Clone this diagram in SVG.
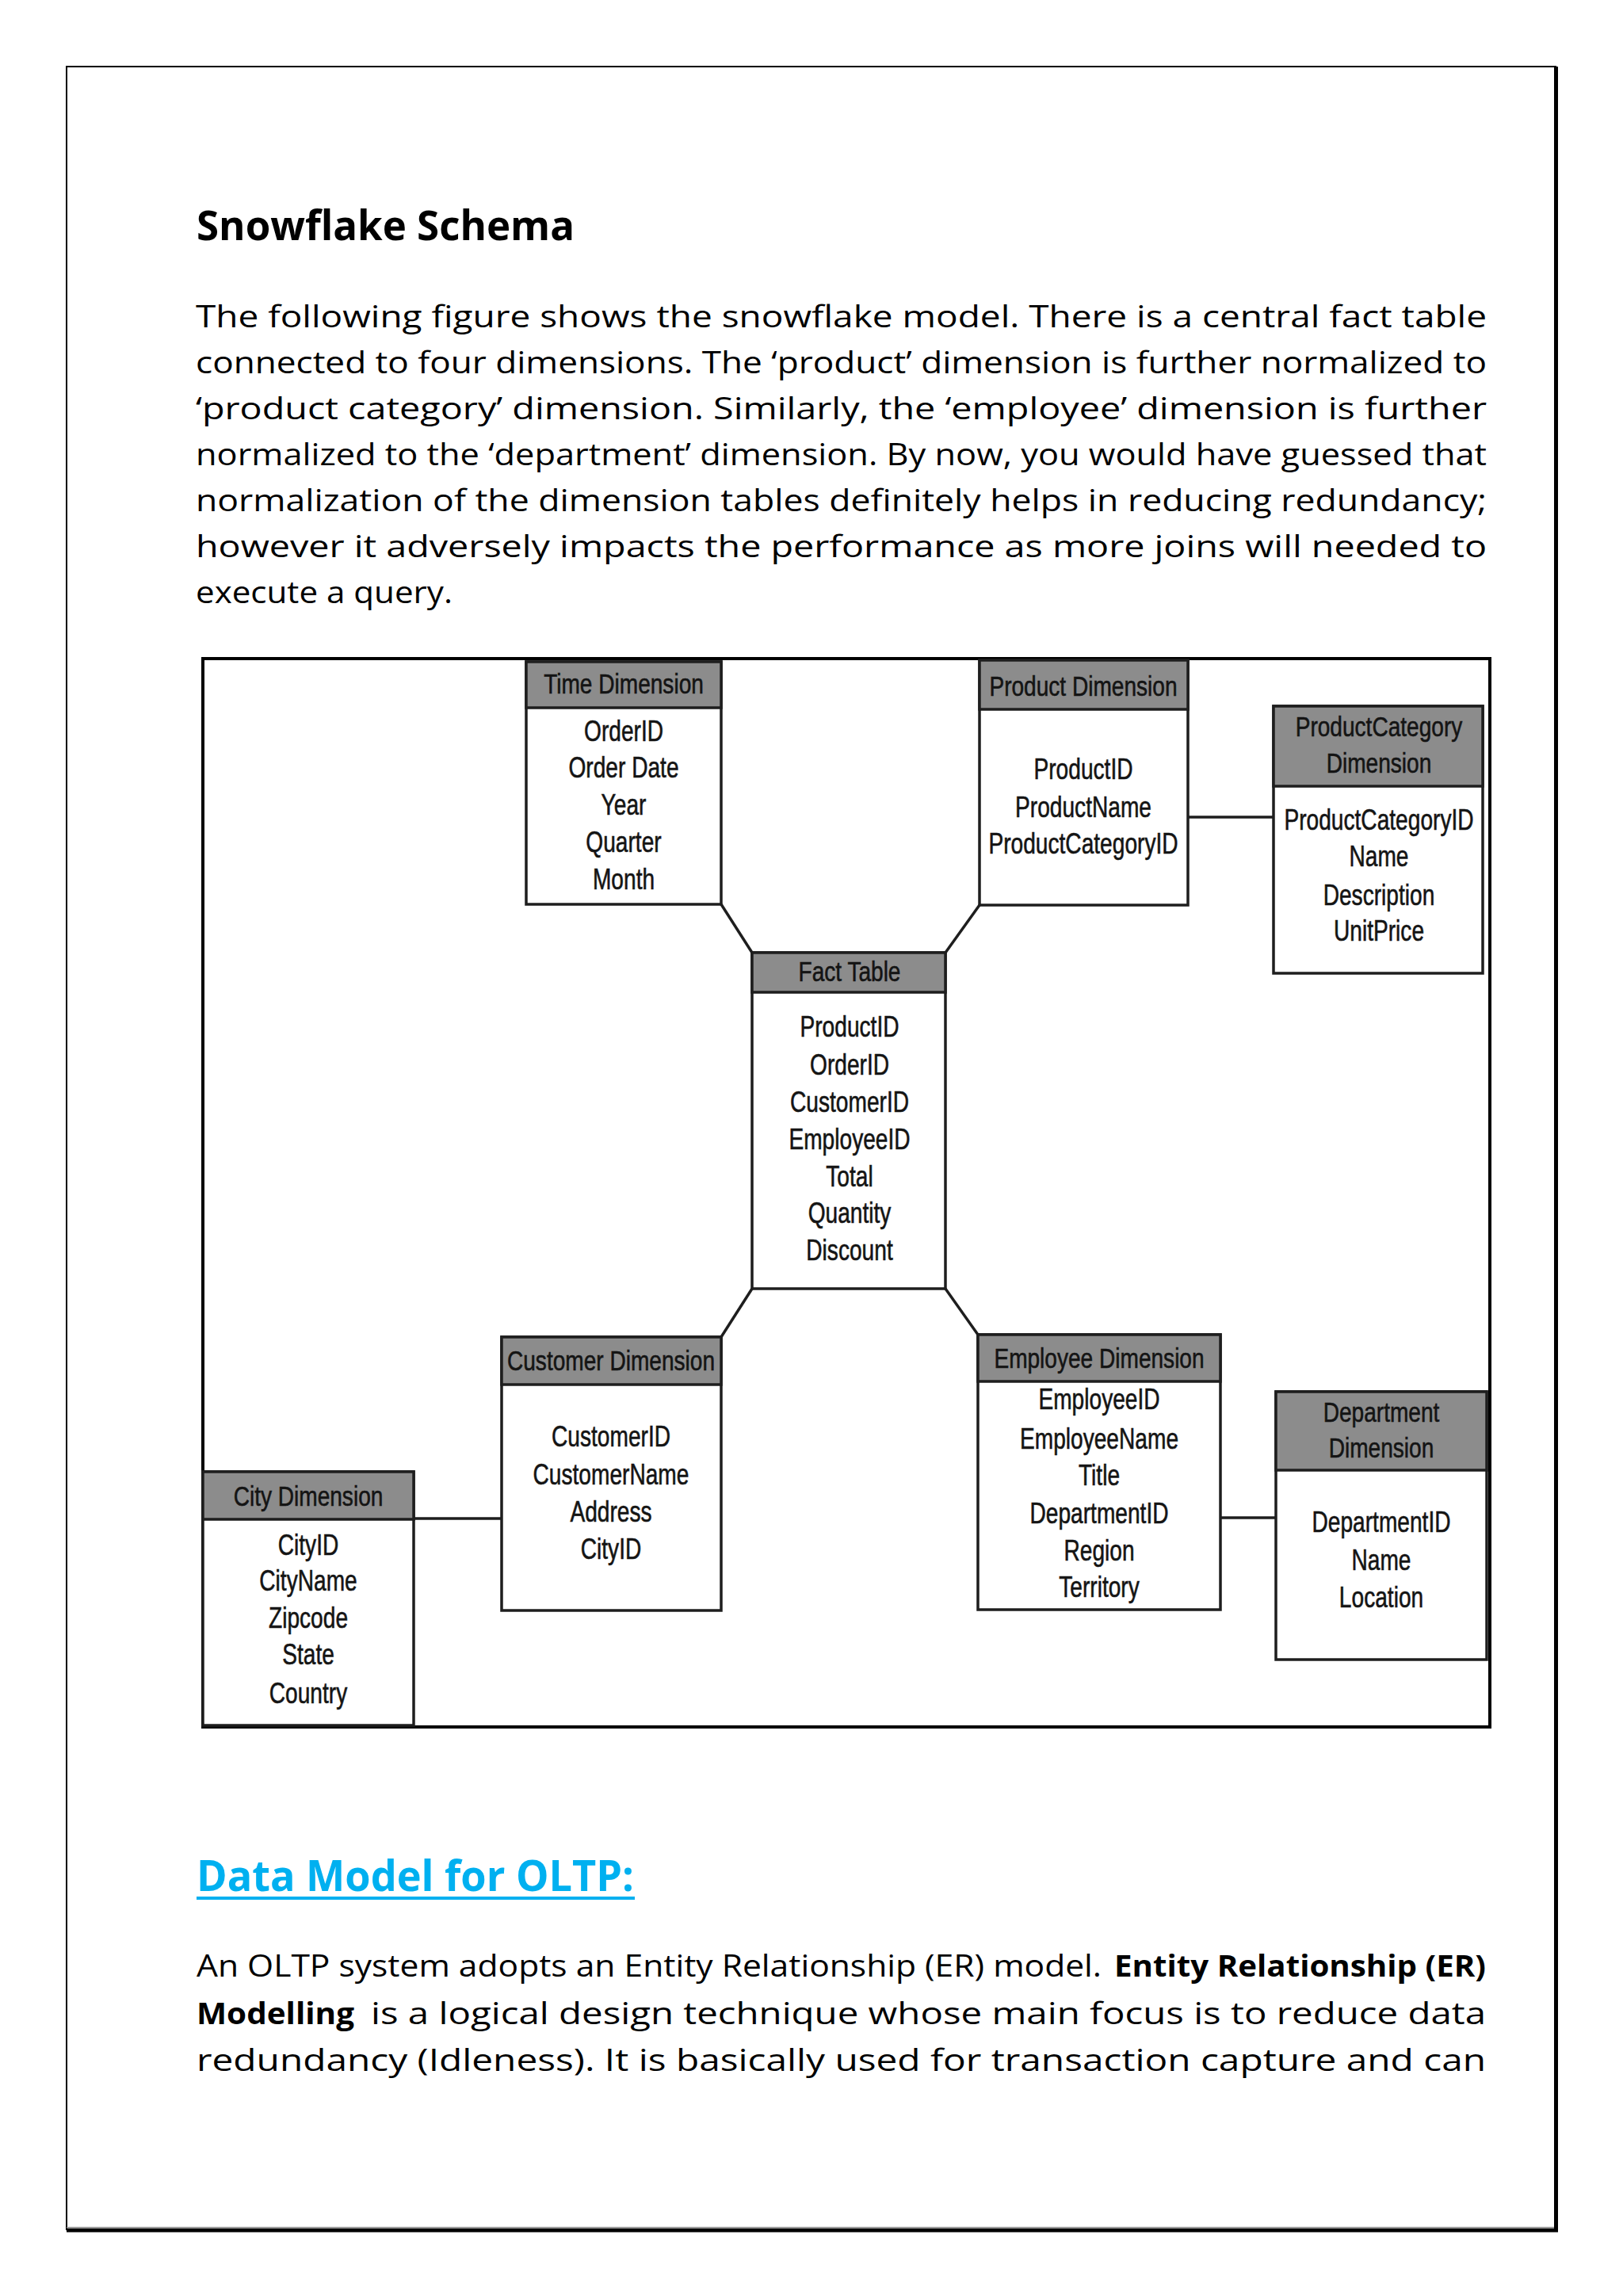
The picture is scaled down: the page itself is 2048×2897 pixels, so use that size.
<svg xmlns="http://www.w3.org/2000/svg" width="2048" height="2897" viewBox="0 0 2048 2897">
<style>
.body{font-family:"Open Sans","Noto Sans","Liberation Sans",sans-serif;font-size:38px;fill:#000}
.bold{font-weight:bold}
.h1{font-family:"Open Sans","Noto Sans","Liberation Sans",sans-serif;font-size:52px;font-weight:bold;fill:#000}
.h2{font-family:"Open Sans","Noto Sans","Liberation Sans",sans-serif;font-size:54px;font-weight:bold;fill:#00B0F0}
.box{fill:#fff;stroke:#1e1e1e;stroke-width:3.5}
.hdr{fill:#8c8c8c;stroke:#1e1e1e;stroke-width:3.5}
.ht{font-family:"Liberation Sans",Arial,sans-serif;font-size:36px;fill:#141414;stroke:#141414;stroke-width:0.6;text-anchor:middle}
.ft{font-family:"Liberation Sans",Arial,sans-serif;font-size:37px;fill:#141414;stroke:#141414;stroke-width:0.6;text-anchor:middle}
.conn line{stroke:#1e1e1e;stroke-width:3.5;fill:none}
</style>
<rect width="2048" height="2897" fill="#fff"/>
<!-- page border -->
<rect x="84" y="84" width="1879" height="2729" fill="none" stroke="#000" stroke-width="2"/>
<line x1="1963.5" y1="84" x2="1963.5" y2="2816" stroke="#000" stroke-width="5"/>
<line x1="84" y1="2814" x2="1966" y2="2814" stroke="#000" stroke-width="5"/>
<line x1="84" y1="2810.5" x2="1961" y2="2810.5" stroke="#999" stroke-width="1.5"/>

<text class="h1" x="248" y="303" textLength="477" lengthAdjust="spacingAndGlyphs">Snowflake Schema</text>

<g id="para1">
<text class="body" x="247" y="413" textLength="1629" lengthAdjust="spacingAndGlyphs">The following figure shows the snowflake model. There is a central fact table</text>
<text class="body" x="247" y="471" textLength="1629" lengthAdjust="spacingAndGlyphs">connected to four dimensions. The ‘product’ dimension is further normalized to</text>
<text class="body" x="247" y="529" textLength="1629" lengthAdjust="spacingAndGlyphs">‘product category’ dimension. Similarly, the ‘employee’ dimension is further</text>
<text class="body" x="247" y="587" textLength="1629" lengthAdjust="spacingAndGlyphs">normalized to the ‘department’ dimension. By now, you would have guessed that</text>
<text class="body" x="247" y="645" textLength="1629" lengthAdjust="spacingAndGlyphs">normalization of the dimension tables definitely helps in reducing redundancy;</text>
<text class="body" x="247" y="703" textLength="1629" lengthAdjust="spacingAndGlyphs">however it adversely impacts the performance as more joins will needed to</text>
<text class="body" x="247" y="761" textLength="324" lengthAdjust="spacingAndGlyphs">execute a query.</text>
</g>

<!-- figure frame -->
<rect x="256" y="831" width="1624" height="1348" fill="#fff" stroke="#000" stroke-width="4"/>

<g class="conn" id="connectors">
<line x1="910" y1="1141" x2="949" y2="1202"/>
<line x1="1236" y1="1142" x2="1193" y2="1202"/>
<line x1="1499" y1="1031" x2="1607" y2="1031"/>
<line x1="949" y1="1626" x2="910" y2="1687"/>
<line x1="1193" y1="1626" x2="1234" y2="1684"/>
<line x1="522" y1="1916" x2="633" y2="1916"/>
<line x1="1540" y1="1915" x2="1610" y2="1915"/>
</g>

<g id="time-dimension">
<rect class="box" x="664" y="835" width="246" height="306"/>
<rect class="hdr" x="664" y="835" width="246" height="58"/>
<g transform="translate(787 0) scale(0.78 1)"><text class="ht" x="0" y="875">Time Dimension</text></g>
<g transform="translate(787 0) scale(0.76 1)">
<text class="ft" x="0" y="935">OrderID</text>
<text class="ft" x="0" y="981">Order Date</text>
<text class="ft" x="0" y="1028">Year</text>
<text class="ft" x="0" y="1075">Quarter</text>
<text class="ft" x="0" y="1122">Month</text>
</g>
</g>

<g id="product-dimension">
<rect class="box" x="1236" y="833" width="263" height="309"/>
<rect class="hdr" x="1236" y="833" width="263" height="62"/>
<g transform="translate(1367 0) scale(0.78 1)"><text class="ht" x="0" y="878">Product Dimension</text></g>
<g transform="translate(1367 0) scale(0.76 1)">
<text class="ft" x="0" y="983">ProductID</text>
<text class="ft" x="0" y="1031">ProductName</text>
<text class="ft" x="0" y="1077">ProductCategoryID</text>
</g>
</g>

<g id="productcategory-dimension">
<rect class="box" x="1607" y="891" width="264" height="337"/>
<rect class="hdr" x="1607" y="891" width="264" height="101"/>
<g transform="translate(1740 0) scale(0.78 1)">
<text class="ht" x="0" y="929">ProductCategory</text>
<text class="ht" x="0" y="975">Dimension</text>
</g>
<g transform="translate(1740 0) scale(0.76 1)">
<text class="ft" x="0" y="1047">ProductCategoryID</text>
<text class="ft" x="0" y="1093">Name</text>
<text class="ft" x="0" y="1142">Description</text>
<text class="ft" x="0" y="1187">UnitPrice</text>
</g>
</g>

<g id="fact-table">
<rect class="box" x="949" y="1202" width="244" height="424"/>
<rect class="hdr" x="949" y="1202" width="244" height="50"/>
<g transform="translate(1072 0) scale(0.78 1)"><text class="ht" x="0" y="1238">Fact Table</text></g>
<g transform="translate(1072 0) scale(0.76 1)">
<text class="ft" x="0" y="1308">ProductID</text>
<text class="ft" x="0" y="1356">OrderID</text>
<text class="ft" x="0" y="1403">CustomerID</text>
<text class="ft" x="0" y="1450">EmployeeID</text>
<text class="ft" x="0" y="1497">Total</text>
<text class="ft" x="0" y="1543">Quantity</text>
<text class="ft" x="0" y="1590">Discount</text>
</g>
</g>

<g id="customer-dimension">
<rect class="box" x="633" y="1687" width="277" height="345"/>
<rect class="hdr" x="633" y="1687" width="277" height="60"/>
<g transform="translate(771 0) scale(0.78 1)"><text class="ht" x="0" y="1729">Customer Dimension</text></g>
<g transform="translate(771 0) scale(0.76 1)">
<text class="ft" x="0" y="1825">CustomerID</text>
<text class="ft" x="0" y="1873">CustomerName</text>
<text class="ft" x="0" y="1920">Address</text>
<text class="ft" x="0" y="1967">CityID</text>
</g>
</g>

<g id="city-dimension">
<rect class="box" x="256" y="1857" width="266" height="320"/>
<rect class="hdr" x="256" y="1857" width="266" height="60"/>
<g transform="translate(389 0) scale(0.78 1)"><text class="ht" x="0" y="1900">City Dimension</text></g>
<g transform="translate(389 0) scale(0.76 1)">
<text class="ft" x="0" y="1962">CityID</text>
<text class="ft" x="0" y="2007">CityName</text>
<text class="ft" x="0" y="2054">Zipcode</text>
<text class="ft" x="0" y="2100">State</text>
<text class="ft" x="0" y="2149">Country</text>
</g>
</g>

<g id="employee-dimension">
<rect class="box" x="1234" y="1684" width="306" height="347"/>
<rect class="hdr" x="1234" y="1684" width="306" height="59"/>
<g transform="translate(1387 0) scale(0.78 1)"><text class="ht" x="0" y="1726">Employee Dimension</text></g>
<g transform="translate(1387 0) scale(0.76 1)">
<text class="ft" x="0" y="1778">EmployeeID</text>
<text class="ft" x="0" y="1828">EmployeeName</text>
<text class="ft" x="0" y="1874">Title</text>
<text class="ft" x="0" y="1922">DepartmentID</text>
<text class="ft" x="0" y="1969">Region</text>
<text class="ft" x="0" y="2015">Territory</text>
</g>
</g>

<g id="department-dimension">
<rect class="box" x="1610" y="1756" width="266" height="338"/>
<rect class="hdr" x="1610" y="1756" width="266" height="99"/>
<g transform="translate(1743 0) scale(0.78 1)">
<text class="ht" x="0" y="1794">Department</text>
<text class="ht" x="0" y="1839">Dimension</text>
</g>
<g transform="translate(1743 0) scale(0.76 1)">
<text class="ft" x="0" y="1933">DepartmentID</text>
<text class="ft" x="0" y="1981">Name</text>
<text class="ft" x="0" y="2028">Location</text>
</g>
</g>

<text class="h2" x="248" y="2386" textLength="552" lengthAdjust="spacingAndGlyphs">Data Model for OLTP:</text>
<line x1="248" y1="2395" x2="801" y2="2395" stroke="#00B0F0" stroke-width="4"/>

<g id="para2">
<text class="body" x="248" y="2494" textLength="1142" lengthAdjust="spacingAndGlyphs">An OLTP system adopts an Entity Relationship (ER) model.</text>
<text class="body bold" x="1406" y="2494" textLength="469" lengthAdjust="spacingAndGlyphs">Entity Relationship (ER)</text>
<text class="body bold" x="248" y="2554" textLength="199" lengthAdjust="spacingAndGlyphs">Modelling</text>
<text class="body" x="468" y="2554" textLength="1407" lengthAdjust="spacingAndGlyphs">is a logical design technique whose main focus is to reduce data</text>
<text class="body" x="248" y="2613" textLength="1627" lengthAdjust="spacingAndGlyphs">redundancy (Idleness). It is basically used for transaction capture and can</text>
</g>
</svg>
